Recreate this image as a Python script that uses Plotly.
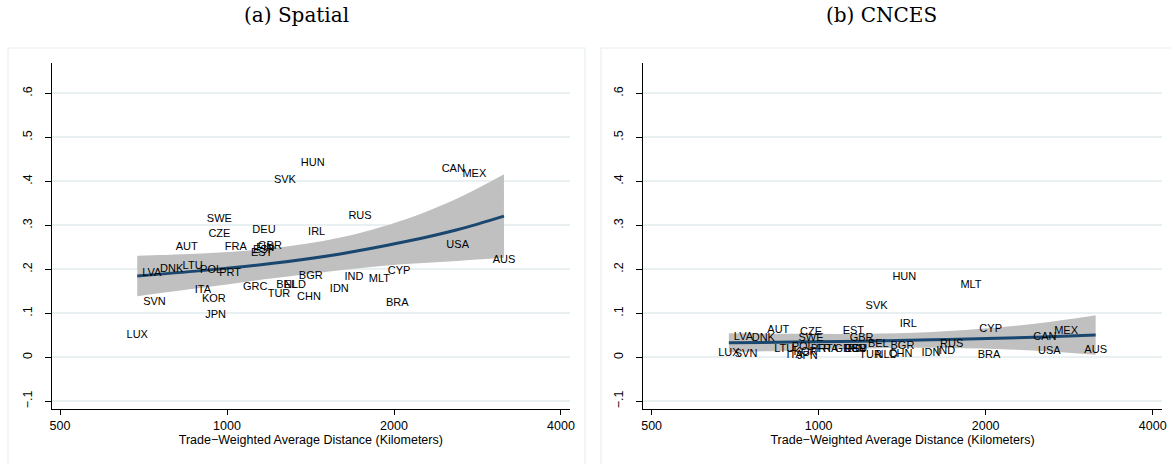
import plotly.graph_objects as go

# Country codes and trade-weighted average distance (km)
countries = ["LUX", "SVN", "LVA", "DNK", "LTU", "AUT", "POL", "PRT", "SWE", "CZE",
             "ITA", "KOR", "JPN", "FRA", "DEU", "GBR", "GRC", "EST", "ESP", "FIN",
             "SVK", "HUN", "IRL", "BEL", "NLD", "TUR", "BGR", "CHN", "IDN", "IND",
             "RUS", "MLT", "CYP", "BRA", "CAN", "MEX", "USA", "AUS"]
distance = [689, 740, 732, 795, 867, 846, 936, 1013, 969, 969,
            905, 947, 954, 1037, 1166, 1195, 1124, 1155, 1166, 1172,
            1272, 1427, 1451, 1281, 1326, 1241, 1416, 1405, 1594, 1694,
            1737, 1882, 2042, 2028, 2558, 2792, 2605, 3157]

# Panel (a): spatial measure
spatial = [0.051, 0.126, 0.191, 0.201, 0.2075, 0.249, 0.198, 0.192, 0.314, 0.280,
           0.153, 0.1325, 0.0945, 0.251, 0.288, 0.253, 0.159, 0.237, 0.244, 0.247,
           0.403, 0.441, 0.285, 0.163, 0.163, 0.143, 0.185, 0.1355, 0.155, 0.183,
           0.3195, 0.178, 0.196, 0.1227, 0.428, 0.415, 0.255, 0.2195]

# Panel (b): CNCES measure
cnces = [0.009, 0.0075, 0.0455, 0.043, 0.019, 0.062, 0.0234, 0.019, 0.043, 0.058,
         0.005, 0.012, 0.003, 0.019, 0.019, 0.043, 0.019, 0.060, 0.019, 0.019,
         0.117, 0.182, 0.075, 0.030, 0.005, 0.005, 0.024, 0.0075, 0.009, 0.0127,
         0.0295, 0.163, 0.064, 0.005, 0.0455, 0.059, 0.0127, 0.015]

# Fitted values and 95% confidence band
fit_x = [689, 900, 1200, 1600, 2100, 2600, 3157]
spatial_fit = [0.185, 0.197, 0.213, 0.235, 0.263, 0.290, 0.321]
spatial_hi = [0.231, 0.236, 0.247, 0.272, 0.314, 0.361, 0.416]
spatial_lo = [0.139, 0.158, 0.179, 0.198, 0.212, 0.219, 0.226]
cnces_fit = [0.033, 0.0345, 0.0366, 0.0396, 0.0432, 0.0468, 0.0507]
cnces_hi = [0.0545, 0.0533, 0.0532, 0.0574, 0.0676, 0.0804, 0.0957]
cnces_lo = [0.0115, 0.0157, 0.0200, 0.0218, 0.0188, 0.0132, 0.0057]

x_ticks = [500, 1000, 2000, 4000]
y_ticks = [-0.1, 0, 0.1, 0.2, 0.3, 0.4, 0.5, 0.6]
y_ticktext = ["\u2212.1", "0", ".1", ".2", ".3", ".4", ".5", ".6"]

W, H = 1171, 464
NAVY = "#1a476f"
BAND = "#c0c0c0"
GRID = "#e9f0f2"
FRAME = "#e6eef0"
LABEL_FONT = dict(family="Liberation Sans, Arial, sans-serif", size=11, color="#000000")

fig = go.Figure()

panels = [
    ("x", "y", spatial, spatial_fit, spatial_hi, spatial_lo),
    ("x2", "y2", cnces, cnces_fit, cnces_hi, cnces_lo),
]
for xa, ya, vals, fit, hi, lo in panels:
    # confidence band: lower edge, then upper edge filled down to it
    fig.add_trace(go.Scatter(x=fit_x, y=lo, mode="lines",
                             line=dict(width=0, color=BAND, shape="spline"),
                             xaxis=xa, yaxis=ya, hoverinfo="skip"))
    fig.add_trace(go.Scatter(x=fit_x, y=hi, mode="lines", fill="tonexty",
                             fillcolor=BAND, line=dict(width=0, color=BAND, shape="spline"),
                             xaxis=xa, yaxis=ya, hoverinfo="skip"))
    fig.add_trace(go.Scatter(x=fit_x, y=fit, mode="lines",
                             line=dict(color=NAVY, width=3, shape="spline"),
                             xaxis=xa, yaxis=ya))
    fig.add_trace(go.Scatter(x=distance, y=vals, mode="text", text=countries,
                             textposition="middle center", textfont=LABEL_FONT,
                             xaxis=xa, yaxis=ya))

x_left = (51.7 / W, 570 / W)
x_right = (643.3 / W, 1161.7 / W)
y_dom = (1 - 409.3 / H, 1 - 63.3 / H)

axis_font = dict(family="Liberation Sans, Arial, sans-serif", size=12.5, color="#000000")

def xaxis_cfg(domain, anchor):
    return dict(domain=domain, anchor=anchor, type="log", range=[2.684, 3.6183],
                tickvals=x_ticks, ticktext=[str(v) for v in x_ticks],
                showgrid=False, zeroline=False, showline=True, linecolor="#000000",
                linewidth=1, ticks="outside", ticklen=5, tickcolor="#000000",
                tickfont=axis_font, automargin=False,
                title=dict(text="Trade\u2212Weighted Average Distance (Kilometers)",
                           font=axis_font, standoff=2))

def yaxis_cfg(anchor):
    return dict(domain=y_dom, anchor=anchor, range=[-0.1182, 0.6682],
                tickvals=y_ticks, ticktext=y_ticktext, tickangle=-90,
                showgrid=True, gridcolor=GRID, gridwidth=1.5, zeroline=False,
                showline=True, linecolor="#000000", linewidth=1,
                ticks="outside", ticklen=6, tickcolor="#000000",
                ticklabelstandoff=8,
                tickfont=axis_font, automargin=False)

TITLE_FONT = dict(family="DejaVu Serif", size=20, color="#000000")

fig.update_layout(
    width=W, height=H, margin=dict(l=0, r=0, t=0, b=0),
    paper_bgcolor="white", plot_bgcolor="white", showlegend=False,
    xaxis=xaxis_cfg(x_left, "y"), yaxis=yaxis_cfg("x"),
    xaxis2=xaxis_cfg(x_right, "y2"), yaxis2=yaxis_cfg("x2"),
    shapes=[
        dict(type="rect", xref="paper", yref="paper", x0=8 / W, x1=585 / W,
             y0=-0.05, y1=1 - 48 / H, line=dict(color=FRAME, width=1.2)),
        dict(type="rect", xref="paper", yref="paper", x0=601 / W, x1=1.02,
             y0=-0.05, y1=1 - 48 / H, line=dict(color=FRAME, width=1.2)),
    ],
    annotations=[
        dict(text="(a) Spatial", xref="paper", yref="paper", x=296 / W, y=1 - 15 / H,
             showarrow=False, xanchor="center", yanchor="middle", font=TITLE_FONT),
        dict(text="(b) CNCES", xref="paper", yref="paper", x=881 / W, y=1 - 15 / H,
             showarrow=False, xanchor="center", yanchor="middle", font=TITLE_FONT),
    ],
)

fig.write_html("out.html")
